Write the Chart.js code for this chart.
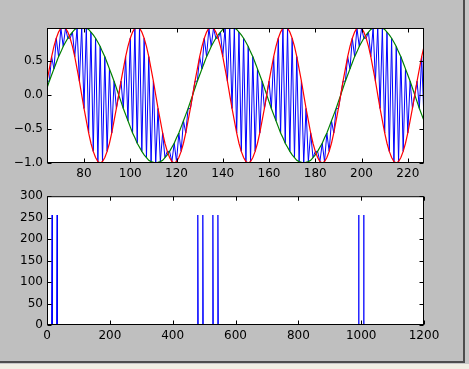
<!DOCTYPE html>
<html>
<head>
<meta charset="utf-8">
<script src="https://cdn.jsdelivr.net/npm/chart.js@4.4.0/dist/chart.umd.min.js"></script>
<style>
  html, body { margin: 0; padding: 0; background: #c6c6c6; }
  #wrap { position: relative; width: 469px; height: 369px; overflow: hidden; }
  #fig { position: absolute; left: 0; top: 0; width: 463px; height: 361px;
         background: #bfbfbf; border-right: 2px solid #4d4d4d; border-bottom: 2px solid #4d4d4d; }
  #strip { position: absolute; left: 0; top: 364px; width: 469px; height: 5px; background: #f1efe4; }
  canvas { position: absolute; left: 0; }
  #top { top: 0; }
  #bottom { top: 185px; }
</style>
</head>
<body>
<div id="wrap">
  <div id="fig"></div>
  <div id="strip"></div>
  <canvas id="top" width="469" height="185"></canvas>
  <canvas id="bottom" width="469" height="184"></canvas>
</div>
<script>
// first sample shown in the top plot, one value per sample after that
var sampleStart = 64;

// red curve, samples 64..228
var redValues = [
  0.2, 0.38, 0.56, 0.71, 0.83, 0.92, 0.98, 1, 0.98, 0.92, 0.83, 0.71, 0.56, 0.38, 0.2, 0, -0.2, -0.38, -0.56, -0.71, -0.83, -0.92, -0.98, -1, -0.98, -0.92, -0.83, -0.71, -0.56, -0.38, -0.2,
  0, 0.2, 0.38, 0.56, 0.71, 0.83, 0.92, 0.98, 1, 0.98, 0.92, 0.83, 0.71, 0.56, 0.38, 0.2, 0, -0.2, -0.38, -0.56, -0.71, -0.83, -0.92, -0.98, -1, -0.98, -0.92, -0.83, -0.71, -0.56, -0.38, -0.2,
  0, 0.2, 0.38, 0.56, 0.71, 0.83, 0.92, 0.98, 1, 0.98, 0.92, 0.83, 0.71, 0.56, 0.38, 0.2, 0, -0.2, -0.38, -0.56, -0.71, -0.83, -0.92, -0.98, -1, -0.98, -0.92, -0.83, -0.71, -0.56, -0.38, -0.2,
  0, 0.2, 0.38, 0.56, 0.71, 0.83, 0.92, 0.98, 1, 0.98, 0.92, 0.83, 0.71, 0.56, 0.38, 0.2, 0, -0.2, -0.38, -0.56, -0.71, -0.83, -0.92, -0.98, -1, -0.98, -0.92, -0.83, -0.71, -0.56, -0.38, -0.2,
  0, 0.2, 0.38, 0.56, 0.71, 0.83, 0.92, 0.98, 1, 0.98, 0.92, 0.83, 0.71, 0.56, 0.38, 0.2, 0, -0.2, -0.38, -0.56, -0.71, -0.83, -0.92, -0.98, -1, -0.98, -0.92, -0.83, -0.71, -0.56, -0.38, -0.2,
  0, 0.2, 0.38, 0.56, 0.71, 0.83
];

// green curve, samples 64..228
var greenValues = [
  0.1, 0.2, 0.29, 0.38, 0.47, 0.56, 0.63, 0.71, 0.77, 0.83, 0.88, 0.92, 0.96, 0.98, 0.99, 1, 0.99, 0.98, 0.96, 0.92, 0.88, 0.83, 0.77, 0.71, 0.63, 0.56, 0.47, 0.38, 0.29, 0.2, 0.1,
  0, -0.1, -0.2, -0.29, -0.38, -0.47, -0.56, -0.63, -0.71, -0.77, -0.83, -0.88, -0.92, -0.96, -0.98, -0.99, -1, -0.99, -0.98, -0.96, -0.92, -0.88, -0.83, -0.77, -0.71, -0.63, -0.56, -0.47, -0.38, -0.29, -0.2, -0.1,
  0, 0.1, 0.2, 0.29, 0.38, 0.47, 0.56, 0.63, 0.71, 0.77, 0.83, 0.88, 0.92, 0.96, 0.98, 0.99, 1, 0.99, 0.98, 0.96, 0.92, 0.88, 0.83, 0.77, 0.71, 0.63, 0.56, 0.47, 0.38, 0.29, 0.2, 0.1,
  0, -0.1, -0.2, -0.29, -0.38, -0.47, -0.56, -0.63, -0.71, -0.77, -0.83, -0.88, -0.92, -0.96, -0.98, -0.99, -1, -0.99, -0.98, -0.96, -0.92, -0.88, -0.83, -0.77, -0.71, -0.63, -0.56, -0.47, -0.38, -0.29, -0.2, -0.1,
  0, 0.1, 0.2, 0.29, 0.38, 0.47, 0.56, 0.63, 0.71, 0.77, 0.83, 0.88, 0.92, 0.96, 0.98, 0.99, 1, 0.99, 0.98, 0.96, 0.92, 0.88, 0.83, 0.77, 0.71, 0.63, 0.56, 0.47, 0.38, 0.29, 0.2, 0.1,
  0, -0.1, -0.2, -0.29, -0.38, -0.47
];

// spectrum (bottom plot): bin numbers and magnitudes
var fftBins = [0, 15, 16, 17, 31, 32, 33, 479, 480, 481, 495, 496, 497, 527, 528, 529, 543, 544, 545, 991, 992, 993, 1007, 1008, 1009, 1023];
var fftMag  = [0, 0, 256, 0, 0, 256, 0, 0, 256, 0, 0, 256, 0, 0, 256, 0, 0, 256, 0, 0, 256, 0, 0, 256, 0, 0];

// tick labels
var topXTicks = [80, 100, 120, 140, 160, 180, 200, 220];
var topYTicks = [-1.0, -0.5, 0.0, 0.5];
var bottomXTicks = [0, 200, 400, 600, 800, 1000, 1200];
var bottomYTicks = [0, 50, 100, 150, 200, 250, 300];

Chart.defaults.font.family = 'DejaVu Sans';
Chart.defaults.font.size = 12;
Chart.defaults.color = '#000';

// build the point lists
var redPts = [], greenPts = [], bluePts = [];
for (var i = 0; i < redValues.length; i++) {
  var n = sampleStart + i;
  redPts.push({x: n, y: redValues[i]});
  greenPts.push({x: n, y: greenValues[i]});
  // the signal takes the red curve on even samples, the green one on odd samples
  bluePts.push({x: n, y: n % 2 === 0 ? redValues[i] : greenValues[i]});
}
var fftPts = fftBins.map(function (b, i) { return {x: b, y: fftMag[i]}; });

// white plot area, black frame, ticks pointing inwards on all sides
var axesFrame = {
  id: 'axesFrame',
  beforeDatasetsDraw: function (chart) {
    var a = chart.chartArea, ctx = chart.ctx;
    ctx.save();
    ctx.fillStyle = '#fff';
    ctx.fillRect(a.left, a.top, a.right - a.left, a.bottom - a.top);
    ctx.restore();
  },
  afterDraw: function (chart) {
    var a = chart.chartArea, ctx = chart.ctx;
    var l = a.left + 0.5, r = a.right - 0.5, t = a.top + 0.5, b = a.bottom - 0.5;
    ctx.save();
    ctx.strokeStyle = '#000';
    ctx.lineWidth = 1;
    ctx.beginPath();
    chart.scales.x.ticks.forEach(function (tk) {
      var px = Math.round(chart.scales.x.getPixelForValue(tk.value)) + 0.5;
      ctx.moveTo(px, b); ctx.lineTo(px, b - 4);
      ctx.moveTo(px, t); ctx.lineTo(px, t + 4);
    });
    chart.scales.y.ticks.forEach(function (tk) {
      var py = Math.round(chart.scales.y.getPixelForValue(tk.value)) + 0.5;
      ctx.moveTo(l, py); ctx.lineTo(l + 4, py);
      ctx.moveTo(r, py); ctx.lineTo(r - 4, py);
    });
    ctx.stroke();
    ctx.strokeRect(l, t, r - l, b - t);
    ctx.restore();
  }
};

function axis(min, max, tickList, size, fmt) {
  return {
    type: 'linear',
    min: min,
    max: max,
    afterBuildTicks: function (s) { s.ticks = tickList.map(function (v) { return {value: v}; }); },
    afterFit: function (s) { if (s.isHorizontal()) { s.height = size; } else { s.width = size; } },
    grid: {display: false, drawTicks: false},
    border: {display: false},
    ticks: {padding: 4, autoSkip: false, maxRotation: 0, color: '#000',
            callback: fmt || function (v) { return String(v); }}
  };
}

var common = {
  responsive: false,
  animation: false,
  devicePixelRatio: 1,
  plugins: {legend: {display: false}, tooltip: {enabled: false}},
  elements: {point: {radius: 0}, line: {tension: 0}}
};

new Chart(document.getElementById('top').getContext('2d'), {
  type: 'line',
  data: {
    datasets: [
      {data: bluePts, borderColor: '#0000ff', borderWidth: 1, order: 3},
      {data: greenPts, borderColor: '#008000', borderWidth: 1.2, order: 2},
      {data: redPts, borderColor: '#ff0000', borderWidth: 1.2, order: 1}
    ]
  },
  options: Object.assign({}, common, {
    layout: {padding: {left: 0, top: 28, right: 45, bottom: 0}},
    scales: {
      x: axis(64, 227, topXTicks, 22),
      y: axis(-1, 0.98, topYTicks, 47, function (v) { return v.toFixed(1).replace('-', '\u2212'); })
    }
  }),
  plugins: [axesFrame]
});

new Chart(document.getElementById('bottom').getContext('2d'), {
  type: 'line',
  data: {
    datasets: [
      {data: fftPts, borderColor: '#0000ff', borderWidth: 1.3}
    ]
  },
  options: Object.assign({}, common, {
    layout: {padding: {left: 0, top: 5, right: 45, bottom: 0}},
    scales: {
      x: axis(0, 1200, bottomXTicks, 44),
      y: axis(0, 300, bottomYTicks, 47)
    }
  }),
  plugins: [axesFrame]
});
</script>
</body>
</html>
